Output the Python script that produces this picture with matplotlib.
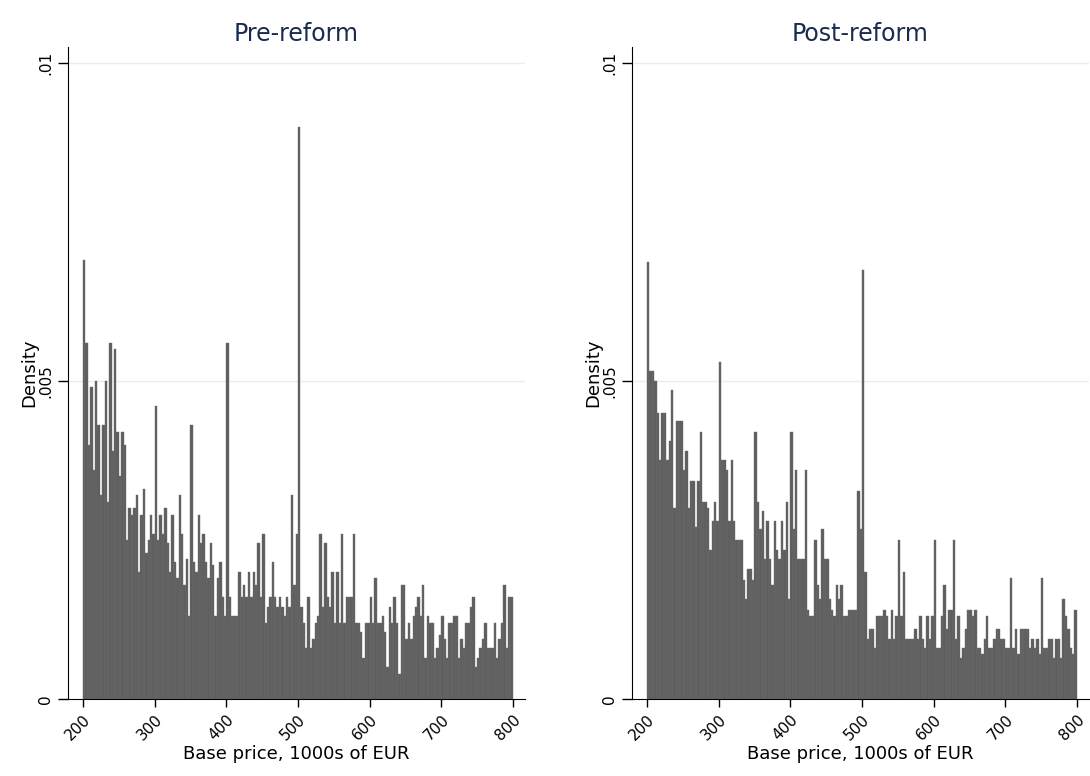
import numpy as np
import matplotlib
matplotlib.use('Agg')
import matplotlib.pyplot as plt

# histogram densities (in units of 0.001), 30 bins per 100k EUR, 200..800
pre_200 = [6.9, 5.6, 4.0, 4.9, 3.6, 5.0, 4.3, 3.2, 4.3, 5.0, 3.1, 5.6, 3.9, 5.5, 4.2,
           3.5, 4.2, 4.0, 2.5, 3.0, 2.9, 3.0, 3.2, 2.0, 2.9, 3.3, 2.3, 2.5, 2.9, 2.6]
pre_300 = [4.6, 2.5, 2.9, 2.6, 3.0, 2.45, 2.0, 2.9, 2.15, 1.9, 3.2, 2.6, 1.8, 2.2, 1.3,
           4.3, 2.15, 2.0, 2.9, 2.45, 2.6, 2.15, 1.9, 2.45, 2.1, 1.3, 1.9, 2.15, 1.6, 1.3]
pre_400 = [5.6, 1.6, 1.3, 1.3, 1.3, 2.0, 1.6, 1.8, 1.6, 2.0, 1.6, 2.0, 1.8, 2.45, 1.6,
           2.6, 1.2, 1.45, 1.6, 2.15, 1.6, 1.45, 1.6, 1.45, 1.3, 1.6, 1.45, 3.2, 1.8, 2.6]
pre_500 = [9.0, 1.45, 1.2, 0.8, 1.6, 0.8, 0.95, 1.2, 1.3, 2.6, 1.45, 2.45, 1.6, 1.45, 2.0,
           1.2, 2.0, 1.2, 2.6, 1.2, 1.6, 1.6, 1.6, 2.6, 1.2, 1.2, 1.05, 0.65, 1.2, 1.2]
pre_600 = [1.6, 1.2, 1.9, 1.2, 1.2, 1.3, 1.05, 0.5, 1.45, 1.2, 1.6, 1.2, 0.4, 1.8, 1.8,
           0.95, 1.2, 0.95, 1.3, 1.45, 1.6, 1.3, 1.8, 0.65, 1.3, 1.2, 1.2, 0.65, 0.8, 1.0]
pre_700 = [1.3, 0.95, 0.65, 1.2, 1.2, 1.3, 1.3, 0.65, 0.95, 0.8, 1.2, 1.2, 1.45, 1.6, 0.5,
           0.65, 0.8, 0.95, 1.2, 0.8, 0.8, 0.8, 1.2, 0.65, 0.95, 1.2, 1.8, 0.8, 1.6, 1.6]

post_200 = [6.87, 5.15, 5.15, 5.0, 4.5, 3.75, 4.5, 4.5, 3.75, 4.05, 4.85, 3.0, 4.37, 4.37, 4.37,
            3.6, 3.9, 3.0, 3.43, 3.43, 2.7, 3.43, 4.2, 3.1, 3.1, 3.0, 2.35, 2.8, 3.1, 2.8]
post_300 = [5.3, 3.75, 3.75, 3.6, 2.8, 3.75, 2.8, 2.5, 2.5, 2.5, 1.87, 1.57, 2.04, 2.04, 1.87,
            4.2, 3.1, 2.67, 2.96, 2.2, 2.8, 2.2, 1.8, 2.8, 2.34, 2.2, 2.8, 2.34, 3.1, 1.57]
post_400 = [4.2, 2.67, 3.6, 2.2, 2.2, 2.2, 3.6, 1.4, 1.3, 1.3, 2.5, 1.8, 1.57, 2.67, 2.2,
            2.2, 1.57, 1.4, 1.3, 1.8, 1.57, 1.8, 1.3, 1.3, 1.4, 1.4, 1.4, 1.4, 3.27, 2.67]
post_500 = [6.75, 2.0, 0.94, 1.1, 1.1, 0.8, 1.3, 1.3, 1.3, 1.4, 1.3, 0.94, 1.4, 0.94, 1.3,
            2.5, 1.3, 2.0, 0.94, 0.94, 0.94, 0.94, 1.1, 0.94, 1.3, 0.94, 0.8, 1.3, 0.94, 1.3]
post_600 = [2.5, 0.8, 0.8, 1.3, 1.8, 1.1, 1.4, 1.4, 2.5, 0.94, 1.3, 0.64, 0.8, 1.1, 1.4,
            1.4, 1.3, 1.4, 0.8, 0.8, 0.7, 0.94, 1.3, 0.8, 0.8, 0.94, 1.1, 1.1, 0.94, 0.94]
post_700 = [0.8, 0.8, 1.9, 0.8, 1.1, 0.7, 1.1, 1.1, 1.1, 1.1, 0.8, 0.94, 0.8, 0.94, 0.7,
            1.9, 0.8, 0.8, 0.94, 0.94, 0.64, 0.94, 0.94, 0.64, 1.57, 1.3, 1.1, 0.8, 0.7, 1.4]

pre = np.array(pre_200 + pre_300 + pre_400 + pre_500 + pre_600 + pre_700) / 1000
post = np.array(post_200 + post_300 + post_400 + post_500 + post_600 + post_700) / 1000

x_start, x_end = 200, 800
xticks = [200, 300, 400, 500, 600, 700, 800]
yticks = [0, 0.005, 0.01]
ylabels = ['0', '.005', '.01']
titles = ['Pre-reform', 'Post-reform']

fig = plt.figure(figsize=(10.9, 7.76), dpi=100)
fig.patch.set_facecolor('white')
lefts = [68 / 1090, 632 / 1090]

for left, dens, title in zip(lefts, [pre, post], titles):
    ax = fig.add_axes([left, 77 / 776, 457 / 1090, 652 / 776])
    width = (x_end - x_start) / len(dens)
    edges = x_start + np.arange(len(dens)) * width
    ax.bar(edges, dens, width=width, align='edge', color='#5e5e5e',
           edgecolor='#707070', linewidth=0.3, zorder=2)
    for yv in yticks[1:]:
        ax.axhline(yv, color='#e6eef1', linewidth=1.0, zorder=1)
    ax.set_xlim(179, 817)
    ax.set_ylim(0, 0.01025)
    ax.set_xticks(xticks)
    ax.set_xticklabels([str(t) for t in xticks], rotation=45, ha='right',
                       rotation_mode='anchor', fontsize=11)
    ax.set_yticks(yticks)
    ax.set_yticklabels(ylabels, rotation=90, va='center', fontsize=11)
    ax.spines['top'].set_visible(False)
    ax.spines['right'].set_visible(False)
    ax.spines['left'].set_color('black')
    ax.spines['bottom'].set_color('black')
    ax.tick_params(axis='y', length=7, width=1, color='black')
    ax.tick_params(axis='x', length=6, width=1, color='black')
    ax.set_xlabel('Base price, 1000s of EUR', fontsize=13, labelpad=1)
    ax.set_ylabel('Density', fontsize=13, labelpad=0)
    ax.set_title(title, fontsize=17, color='#1a2b50', pad=4)

plt.savefig('out.png', dpi=100)
